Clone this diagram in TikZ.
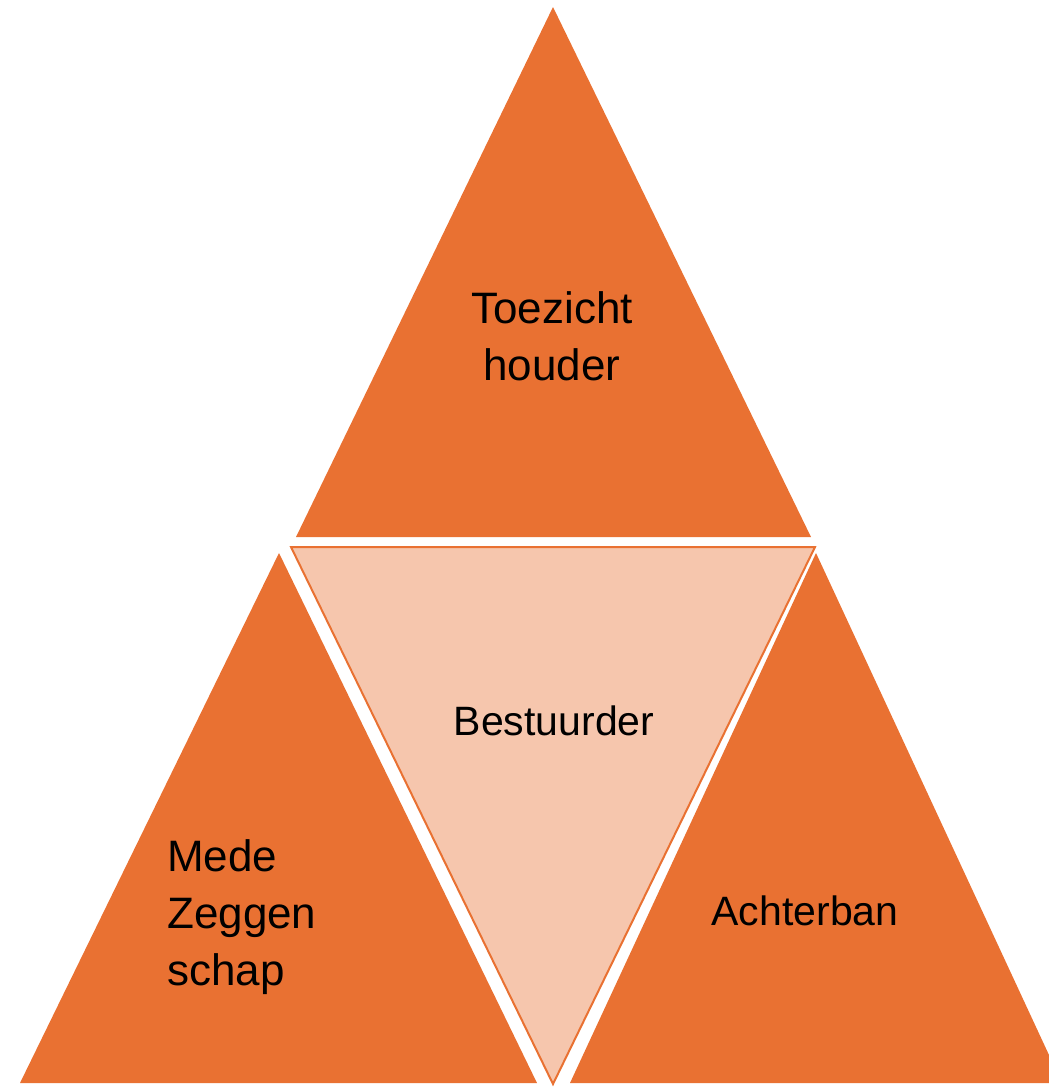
\documentclass[tikz,border=0pt]{standalone}
\usepackage{fontspec}
\setmainfont{Liberation Sans}
\definecolor{orng}{HTML}{E97132}
\definecolor{peach}{HTML}{F6C6AD}
\tikzset{
  tri/.style={fill=orng, draw=none},
  midtri/.style={fill=peach, draw=orng, line width=2pt, line join=miter},
  bigtxt/.style={font=\fontsize{44}{57}\selectfont, inner sep=0pt, text=black},
  smalltxt/.style={font=\fontsize{41}{50}\selectfont, inner sep=0pt, text=black}
}
\begin{document}
\begin{tikzpicture}[x=1pt, y=-1pt]
\useasboundingbox (0,0) rectangle (1049,1087);
\begin{scope}
\clip (0,0) rectangle (1049,1087);
\path[tri] (553,7) coordinate (topA) -- (811,537) -- (296,537) -- cycle;
\path[tri] (279,553) -- (537,1083) -- (20,1083) -- cycle;
\path[tri] (816,553) -- (1062,1083) -- (570,1083) -- cycle;
\path[midtri] (291,547) -- (815,547) -- (553,1084) -- cycle;
\end{scope}
\node[bigtxt, align=center, anchor=base] (toe) at (552,380) {Toezicht\\houder};
\node[smalltxt, anchor=base] (best) at (554,735) {Bestuurder};
\node[smalltxt, anchor=base] (acht) at (805,925) {Achterban};
\node[bigtxt, align=left, anchor=base west] (mede) at (167,985) {Mede\\Zeggen\\schap};
\end{tikzpicture}
\end{document}
